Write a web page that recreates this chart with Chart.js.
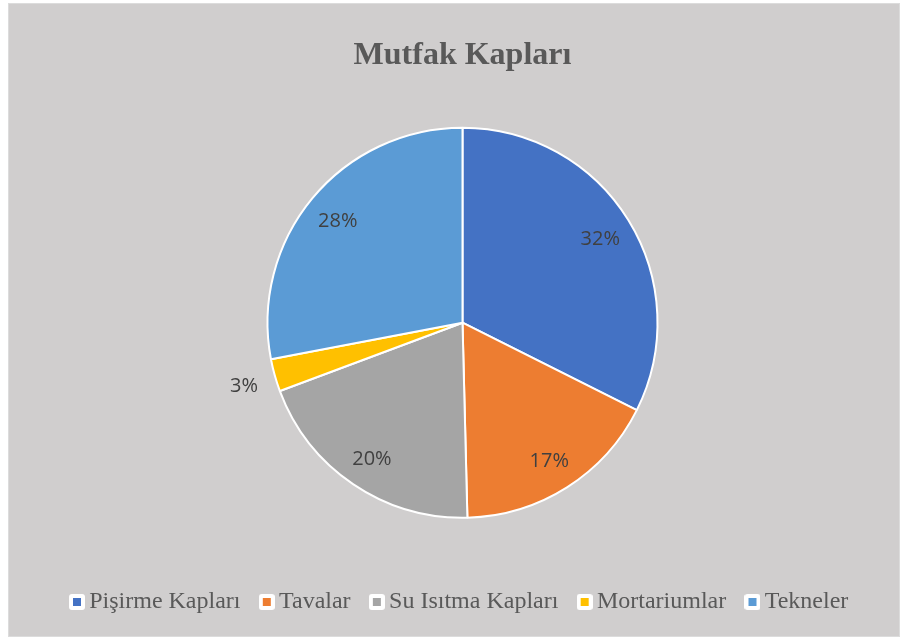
<!DOCTYPE html>
<html>
<head>
<meta charset="utf-8">
<script src="https://cdn.jsdelivr.net/npm/chart.js@4.4.1/dist/chart.umd.min.js"></script>
<style>
  html, body { margin: 0; padding: 0; background: #ffffff; }
  #box {
    position: absolute; left: 8px; top: 3px;
    width: 892px; height: 634px; box-sizing: border-box;
    border: 1px solid #dcdcdc; background: #d0cece;
  }
  #chart { display: block; }
</style>
</head>
<body>
<div id="box"><canvas id="chart" width="890" height="632"></canvas></div>
<script>
"use strict";

//////// data
const labels = ["Pişirme Kapları", "Tavalar", "Su Isıtma Kapları", "Mortariumlar", "Tekneler"];
const values = [32.4, 17.2, 19.7, 2.7, 28.0];
const colors = ["#4472c4", "#ed7d31", "#a5a5a5", "#ffc000", "#5b9bd5"];
const titleText = "Mutfak Kapları";

const textGrey = "#595959";

// legend marker: white rounded square with the colour inside
const makeMarker = function (color) {
  const c = document.createElement("canvas");
  c.width = 16;
  c.height = 16;
  const g = c.getContext("2d");
  g.fillStyle = "#ffffff";
  g.beginPath();
  g.roundRect(0, 0, 16, 16, 3);
  g.fill();
  g.fillStyle = color;
  g.fillRect(4, 4, 8, 8);
  return c;
};
const markers = colors.map(makeMarker);

// percent labels on the slices
const pctLabels = {
  id: "pctLabels",
  afterDatasetsDraw(chart) {
    const ctx = chart.ctx;
    const meta = chart.getDatasetMeta(0);
    const total = values.reduce((a, b) => a + b, 0);
    ctx.save();
    ctx.font = "20px 'Open Sans'";
    ctx.fillStyle = "#404040";
    ctx.textAlign = "center";
    ctx.textBaseline = "middle";
    meta.data.forEach((arc, i) => {
      const p = Math.round((values[i] / total) * 100);
      const mid = (arc.startAngle + arc.endAngle) / 2;
      const r = p < 5 ? arc.outerRadius + 32 : arc.outerRadius * 0.83;
      ctx.fillText(p + "%", arc.x + Math.cos(mid) * r, arc.y + Math.sin(mid) * r + 2);
    });
    ctx.restore();
  },
};

const ctx = document.getElementById("chart");

new Chart(ctx, {
  type: "pie",
  data: {
    labels: labels,
    datasets: [
      {
        data: values,
        backgroundColor: colors,
        borderColor: "#ffffff",
        borderWidth: 2,
        radius: 195,
      },
    ],
  },
  options: {
    responsive: false,
    animation: false,
    events: [],
    layout: { padding: { left: 17, right: 0, top: 0, bottom: 12 } },
    plugins: {
      title: {
        display: true,
        text: titleText,
        color: textGrey,
        font: { family: "'Liberation Serif'", size: 32, weight: "bold" },
        padding: { top: 33, bottom: 6 },
      },
      legend: {
        position: "bottom",
        labels: {
          color: textGrey,
          font: { family: "'Liberation Serif'", size: 24 },
          usePointStyle: true,
          pointStyleWidth: 0.5,
          padding: 26,
          generateLabels(chart) {
            const items = Chart.overrides.pie.plugins.legend.labels.generateLabels(chart);
            items.forEach((it, i) => (it.pointStyle = markers[i]));
            return items;
          },
        },
      },
      tooltip: { enabled: false },
    },
  },
  plugins: [pctLabels],
});
</script>
</body>
</html>
